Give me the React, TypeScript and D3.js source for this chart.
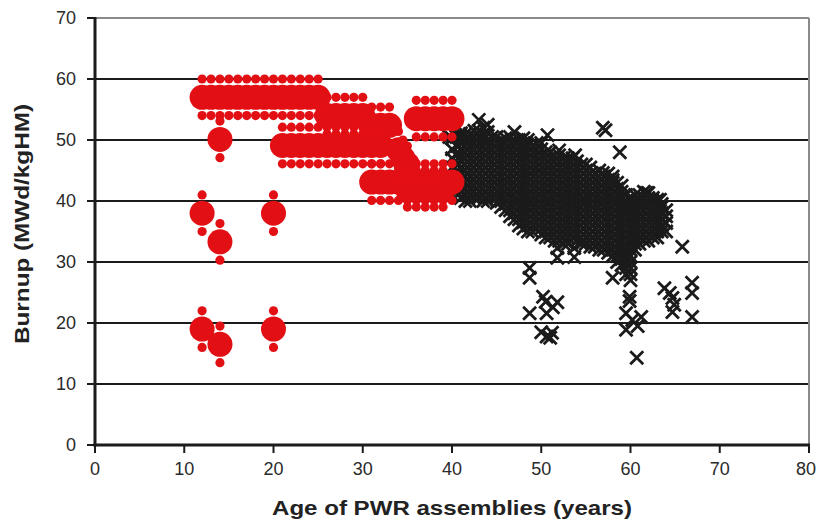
import React from "react";
import * as d3 from "d3";

// Red series: reference assemblies (age, burnup); small dots drawn at ±spread
const redAge = [
  12, 13, 14, 15, 16, 17, 18, 19, 20, 21, 22, 23, 24, 25,
  26, 27, 28, 29, 30,
  31, 32, 33,
  21, 22, 23, 24, 25, 26, 27, 28, 29, 30, 31, 32,
  34, 34.5, 35,
  31, 32, 33, 34, 35, 36, 37, 38, 39, 40,
  35, 36, 37, 38, 39,
  36, 37, 38, 39, 40,
  14, 12, 14, 20, 12, 14, 20,
];
const redBurnup = [
  57, 57, 57, 57, 57, 57, 57, 57, 57, 57, 57, 57, 57, 57,
  54, 54, 54, 54, 54,
  52.4, 52.4, 52.4,
  49.1, 49.1, 49.1, 49.1, 49.1, 49.1, 49.1, 49.1, 49.1, 49.1, 49.1, 49.1,
  48.4, 47, 46,
  43.1, 43.1, 43.1, 43.1, 43.1, 43.1, 43.1, 43.1, 43.1, 43.1,
  42, 42, 42, 42, 42,
  53.5, 53.5, 53.5, 53.5, 53.5,
  50.1, 38, 33.3, 38, 19, 16.5, 19,
];
const redSpread = 3;

// Black series: PWR assemblies, listed by age column
const pwrColumns: [number, number[]][] = [
  [40, [41, 42.5, 44, 45.5, 47, 48.5, 50.3]],
  [40.5, [41.5, 43, 44.5, 46, 47.5, 49, 50.5]],
  [41, [40.5, 41.5, 42.5, 43.5, 44.5, 45.5, 46.5, 47.5, 48.5, 49.5, 50.5, 51.1]],
  [41.5, [40, 41, 42, 43, 44, 45, 46, 47, 48, 49, 50, 51]],
  [42, [40, 41, 42, 43, 44, 45, 46, 47, 48, 49, 50, 51]],
  [42.5, [40.5, 41.5, 42.5, 43.5, 44.5, 45.5, 46.5, 47.5, 48.5, 49.5, 50.5, 51.5]],
  [43, [40.5, 41.5, 42.5, 43.5, 44.5, 45.5, 46.5, 47.5, 48.5, 49.5, 50.5, 51.5, 53.3]],
  [43.5, [40, 41, 42, 43, 44, 45, 46, 47, 48, 49, 50, 51, 52]],
  [44, [40, 41, 42, 43, 44, 45, 46, 47, 48, 49, 50, 51.3, 52.5]],
  [44.5, [40.5, 41.5, 42.5, 43.5, 44.5, 45.5, 46.5, 47.5, 48.5, 49.5, 50.5]],
  [45, [39.7, 40.5, 41.5, 42.5, 43.5, 44.5, 45.5, 46.5, 47.5, 48.5, 49.5, 50.5]],
  [45.5, [39, 40, 41, 42, 43, 44, 45, 46, 47, 48, 49, 50]],
  [46, [38.5, 39.5, 40.5, 41.5, 42.5, 43.5, 44.5, 45.5, 46.5, 47.5, 48.5, 49.5, 50.3]],
  [46.5, [37.5, 38.5, 39.5, 40.5, 41.5, 42.5, 43.5, 44.5, 45.5, 46.5, 47.5, 48.5, 49.5, 50.5]],
  [47, [37, 38, 39, 40, 41, 42, 43, 44, 45, 46, 47, 48, 49, 50, 51.3]],
  [47.5, [36, 37, 38, 39, 40, 41, 42, 43, 44, 45, 46, 47, 48, 49, 50]],
  [48, [35.5, 36.5, 37.5, 38.5, 39.5, 40.5, 41.5, 42.5, 43.5, 44.5, 45.5, 46.5, 47.5, 48.5, 49.5, 50.3]],
  [48.5, [35, 36, 37, 38, 39, 40, 41, 42, 43, 44, 45, 46, 47, 48, 49, 50]],
  [49, [35, 36, 37, 38, 39, 40, 41, 42, 43, 44, 45, 46, 47, 48, 49]],
  [49.5, [35.5, 36.5, 37.5, 38.5, 39.5, 40.5, 41.5, 42.5, 43.5, 44.5, 45.5, 46.5, 47.5, 48.5, 49.5]],
  [50, [34.5, 35.5, 36.5, 37.5, 38.5, 39.5, 40.5, 41.5, 42.5, 43.5, 44.5, 45.5, 46.5, 47.5, 48.5, 49.5]],
  [50.5, [34, 35, 36, 37, 38, 39, 40, 41, 42, 43, 44, 45, 46, 47, 48]],
  [51, [34, 35, 36, 37, 38, 39, 40, 41, 42, 43, 44, 45, 46, 47, 48]],
  [51.5, [33.5, 34.5, 35.5, 36.5, 37.5, 38.5, 39.5, 40.5, 41.5, 42.5, 43.5, 44.5, 45.5, 46.5, 47.5]],
  [52, [33.5, 34.5, 35.5, 36.5, 37.5, 38.5, 39.5, 40.5, 41.5, 42.5, 43.5, 44.5, 45.5, 46.5, 47.5, 48.3]],
  [52.5, [33, 34, 35, 36, 37, 38, 39, 40, 41, 42, 43, 44, 45, 46, 47]],
  [53, [33, 34, 35, 36, 37, 38, 39, 40, 41, 42, 43, 44, 45, 46, 47]],
  [53.5, [34, 35, 36, 37, 38, 39, 40, 41, 42, 43, 44, 45, 46, 47]],
  [54, [33.5, 34.5, 35.5, 36.5, 37.5, 38.5, 39.5, 40.5, 41.5, 42.5, 43.5, 44.5, 45.5, 46.5]],
  [54.5, [33, 34, 35, 36, 37, 38, 39, 40, 41, 42, 43, 44, 45, 46]],
  [55, [33, 34, 35, 36, 37, 38, 39, 40, 41, 42, 43, 44, 45, 46]],
  [55.5, [32.5, 33.5, 34.5, 35.5, 36.5, 37.5, 38.5, 39.5, 40.5, 41.5, 42.5, 43.5, 44.5, 45.5]],
  [56, [32.5, 33.5, 34.5, 35.5, 36.5, 37.5, 38.5, 39.5, 40.5, 41.5, 42.5, 43.5, 44.5]],
  [56.5, [32, 33, 34, 35, 36, 37, 38, 39, 40, 41, 42, 43, 44, 45]],
  [57, [32, 33, 34, 35, 36, 37, 38, 39, 40, 41, 42, 43, 44]],
  [57.5, [31.5, 32.5, 33.5, 34.5, 35.5, 36.5, 37.5, 38.5, 39.5, 40.5, 41.5, 42.5, 43.5, 44.5]],
  [58, [31, 32, 33, 34, 35, 36, 37, 38, 39, 40, 41, 42, 43, 44]],
  [58.5, [30, 31, 32, 33, 34, 35, 36, 37, 38, 39, 40, 41, 42, 43]],
  [59, [29.5, 30.5, 31.5, 32.5, 33.5, 34.5, 35.5, 36.5, 37.5, 38.5, 39.5, 40.5, 41.5, 42.5]],
  [59.5, [28, 29, 30, 31, 32, 33, 34, 35, 36, 37, 38, 39, 40, 41]],
  [60, [27, 28, 29, 30, 31, 32, 33, 34, 35, 36, 37, 38, 39, 40.5]],
  [60.5, [32, 33, 34, 35, 36, 37, 38, 39, 40, 41]],
  [61, [33, 34, 35, 36, 37, 38, 39, 40, 41]],
  [61.5, [33.5, 34.5, 35.5, 36.5, 37.5, 38.5, 39.5, 40.5, 41.5]],
  [62, [33.5, 34.5, 35.5, 36.5, 37.5, 38.5, 39.5, 40.5, 41.3]],
  [62.5, [34, 35, 36, 37, 38, 39, 40, 40.5]],
  [63, [34, 35, 36, 37, 38, 39, 40.2]],
  [63.5, [35, 36, 37, 38, 39, 39.5]],
  [64, [35, 36.4, 37.5, 38.5]],
];
const pwrOutlierAge = [
  39.7, 50.7, 56.9, 57.2, 58.8, 53.8, 61.8, 63.3, 65.8, 56.9, 58,
  48.7, 48.7, 48.7, 50.2, 50.5, 51.3, 50.6, 51.8, 50, 50.6, 51.2, 51,
  51.8, 51.8, 53.7, 53.7, 54.6, 58, 59.9, 59.9, 59.5, 60.2, 60.8, 59.5, 61.2, 60.7,
  63.8, 64.4, 64.7, 64.7, 64.9, 66.9, 66.9, 66.9,
];
const pwrOutlierBurnup = [
  50.5, 50.8, 52, 51.6, 48, 47.5, 41.3, 40.2, 32.5, 44.6, 43.4,
  29, 27.4, 21.6, 24.3, 23.5, 22.6, 21.6, 23.4, 18.5, 17.8, 18.4, 17.6,
  32.3, 30.7, 32.3, 30.8, 33.3, 27.4, 24.3, 23.6, 21.6, 20.5, 19.5, 18.9, 21, 14.3,
  25.7, 24.9, 24.1, 21.8, 23, 26.6, 24.9, 21,
];

const xTicks = [0, 10, 20, 30, 40, 50, 60, 70, 80];
const yTicks = [0, 10, 20, 30, 40, 50, 60, 70];

const W = 817;
const H = 522;
const RED = "#e20f14";
const INK = "#1b1b1b";

export default function App() {
  const x = d3.scaleLinear().domain([0, 80]).range([95, 809]);
  const y = d3.scaleLinear().domain([0, 70]).range([445, 18]);

  const pwr: [number, number][] = [];
  pwrColumns.forEach(([a, vals]) => vals.forEach((v) => pwr.push([a, v])));
  pwrOutlierAge.forEach((a, i) => pwr.push([a, pwrOutlierBurnup[i]]));

  const red = redAge.map((a, i) => [a, redBurnup[i]] as [number, number]);
  const s = 6.5;
  const crossPath = `M${-s},${-s}L${s},${s}M${-s},${s}L${s},${-s}`;
  const font = "Liberation Sans, Arial, Helvetica, sans-serif";

  return (
    <svg
      width={W}
      height={H}
      style={{ position: "absolute", left: 0, top: 0, display: "block", background: "#fff" }}
    >
      {/* gridlines */}
      {yTicks.filter((t) => t > 0 && t < 70).map((t) => (
        <line key={"g" + t} x1={x(0)} x2={x(80)} y1={y(t)} y2={y(t)} stroke={INK} strokeWidth={2} />
      ))}
      {/* top & right border */}
      <line x1={x(0)} x2={x(80)} y1={y(70)} y2={y(70)} stroke="#8a8a8a" strokeWidth={2} />
      <line x1={x(80)} x2={x(80)} y1={y(70)} y2={y(0)} stroke="#8a8a8a" strokeWidth={2} />

      {/* black crosses */}
      <g stroke={INK} strokeWidth={2.8} fill="none">
        {pwr.map(([a, b], i) => (
          <path key={"c" + i} d={crossPath} transform={`translate(${x(a)},${y(b)})`} />
        ))}
      </g>

      {/* red markers */}
      <g fill={RED}>
        {red.map(([a, b], i) => (
          <g key={"r" + i}>
            <circle cx={x(a)} cy={y(b + redSpread)} r={4.6} />
            <circle cx={x(a)} cy={y(b - redSpread)} r={4.6} />
          </g>
        ))}
        {red.map(([a, b], i) => (
          <circle key={"R" + i} cx={x(a)} cy={y(b)} r={12.5} />
        ))}
      </g>

      {/* axes */}
      <line x1={x(0)} x2={x(0)} y1={y(70) - 1} y2={y(0) + 1.5} stroke={INK} strokeWidth={3} />
      <line x1={x(0) - 1.5} x2={x(80) + 1} y1={y(0)} y2={y(0)} stroke={INK} strokeWidth={3} />
      {yTicks.map((t) => (
        <g key={"yt" + t}>
          <line x1={x(0) - 8} x2={x(0)} y1={y(t)} y2={y(t)} stroke={INK} strokeWidth={2} />
          <text
            x={76}
            y={y(t)}
            dy="0.35em"
            textAnchor="end"
            fontFamily={font}
            fontSize={18}
            fill="#2a2a2a"
          >
            {t}
          </text>
        </g>
      ))}
      {xTicks.map((t) => (
        <g key={"xt" + t}>
          <line x1={x(t)} x2={x(t)} y1={y(0)} y2={y(0) + 8} stroke={INK} strokeWidth={2} />
          <text
            x={t === 80 ? x(t) - 3 : x(t)}
            y={469}
            dy="0.35em"
            textAnchor="middle"
            fontFamily={font}
            fontSize={18}
            fill="#2a2a2a"
          >
            {t}
          </text>
        </g>
      ))}
      <text
        x={(x(0) + x(80)) / 2}
        y={508}
        dy="0.35em"
        textAnchor="middle"
        fontFamily={font}
        fontSize={21}
        fontWeight="bold"
        fill="#222"
        textLength={360}
        lengthAdjust="spacingAndGlyphs"
      >
        Age of PWR assemblies (years)
      </text>
      <text
        transform={`translate(22,224) rotate(-90)`}
        dy="0.35em"
        textAnchor="middle"
        fontFamily={font}
        fontSize={21}
        fontWeight="bold"
        fill="#222"
        textLength={240}
        lengthAdjust="spacingAndGlyphs"
      >
        Burnup (MWd/kgHM)
      </text>
    </svg>
  );
}
